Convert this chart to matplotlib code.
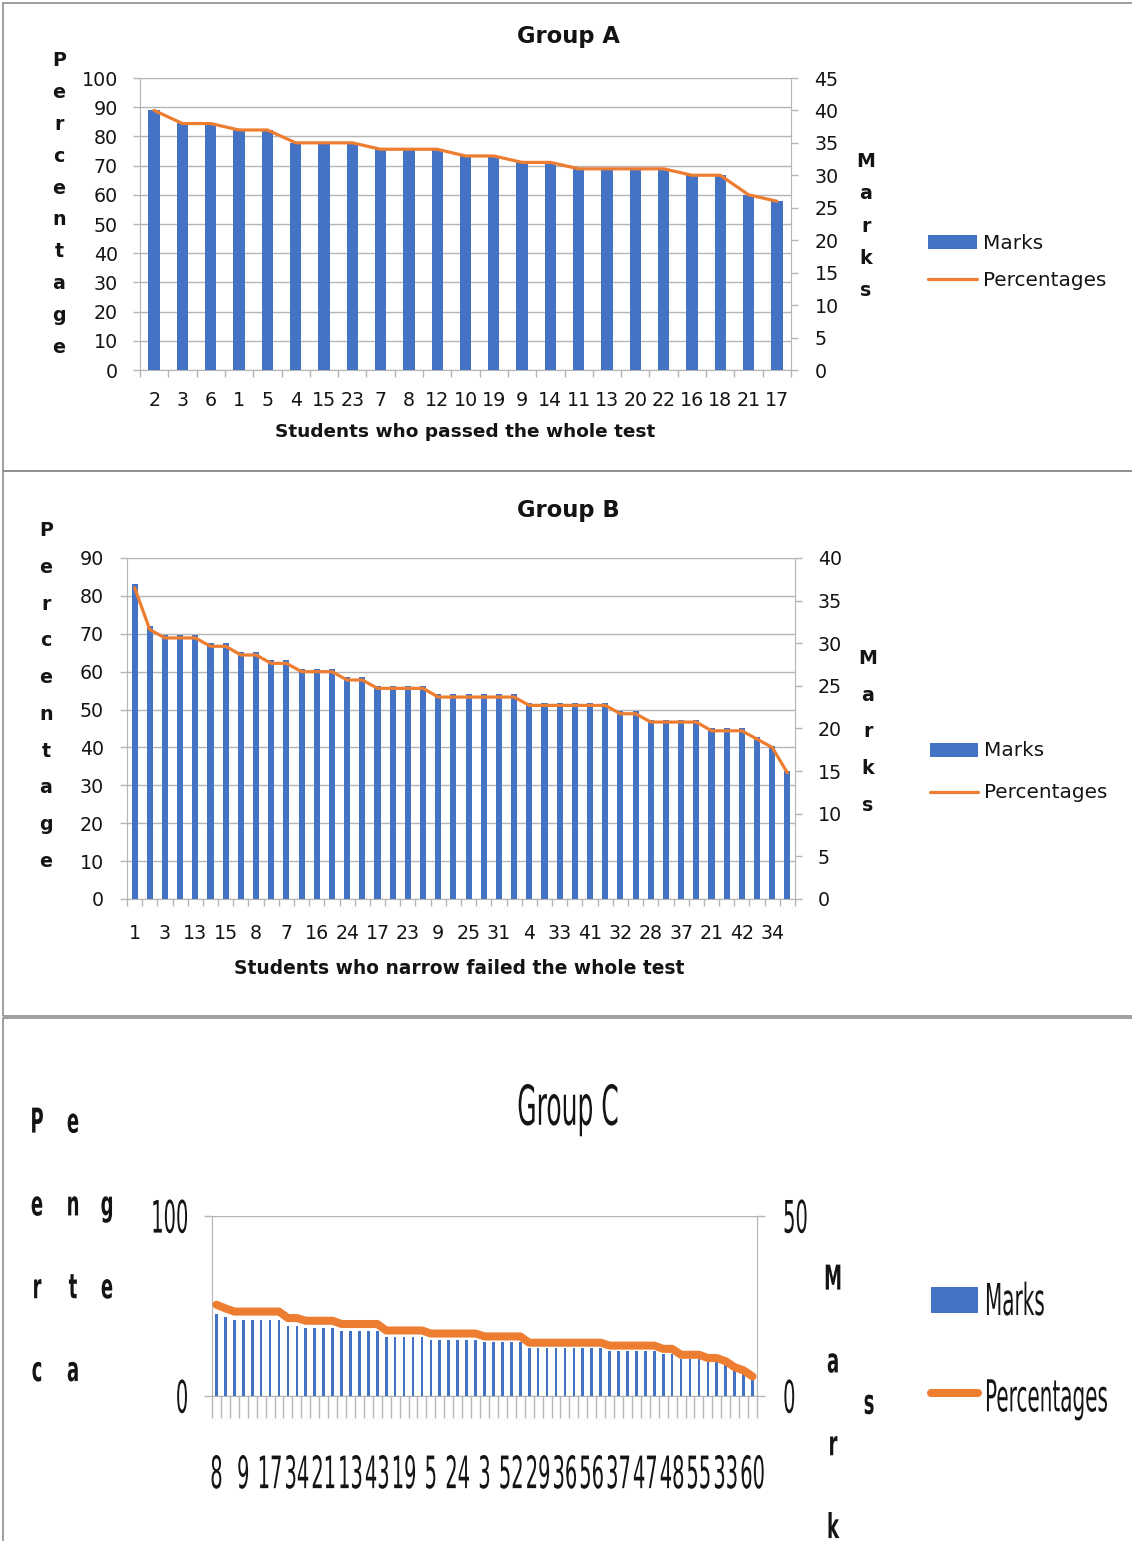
import numpy as np
import matplotlib
matplotlib.use("Agg")
import matplotlib.pyplot as plt
from matplotlib.patches import Rectangle
from matplotlib.patheffects import AbstractPathEffect
from matplotlib.transforms import Affine2D
from matplotlib.textpath import TextToPath

# ---------------------------------------------------------------- data
# Group A: students who passed the whole test
a_students = ["2", "3", "6", "1", "5", "4", "15", "23", "7", "8", "12", "10",
              "19", "9", "14", "11", "13", "20", "22", "16", "18", "21", "17"]
a_marks = [40, 38, 38, 37, 37, 35, 35, 35, 34, 34, 34, 33, 33, 32, 32, 31, 31,
           31, 31, 30, 30, 27, 26]
a_percent = [88.9, 84.4, 84.4, 82.2, 82.2, 77.8, 77.8, 77.8, 75.6, 75.6, 75.6,
             73.3, 73.3, 71.1, 71.1, 68.9, 68.9, 68.9, 68.9, 66.7, 66.7, 60.0,
             57.8]

# Group B: students who narrowly failed the whole test
b_students = ["1", "2", "3", "5", "13", "6", "15", "10", "8", "11", "7", "12",
              "16", "14", "24", "18", "17", "19", "23", "20", "9", "22", "25",
              "26", "31", "27", "4", "29", "33", "30", "41", "35", "32", "36",
              "28", "38", "37", "39", "21", "40", "42", "43", "34", "44"]
b_marks = [37, 32, 31, 31, 31, 30, 30, 29, 29, 28, 28, 27, 27, 27, 26, 26, 25,
           25, 25, 25, 24, 24, 24, 24, 24, 24, 23, 23, 23, 23, 23, 23, 22, 22,
           21, 21, 21, 21, 20, 20, 20, 19, 18, 15]
b_percent = [82.2, 71.1, 68.9, 68.9, 68.9, 66.7, 66.7, 64.4, 64.4, 62.2, 62.2,
             60.0, 60.0, 60.0, 57.8, 57.8, 55.6, 55.6, 55.6, 55.6, 53.3, 53.3,
             53.3, 53.3, 53.3, 53.3, 51.1, 51.1, 51.1, 51.1, 51.1, 51.1, 48.9,
             48.9, 46.7, 46.7, 46.7, 46.7, 44.4, 44.4, 44.4, 42.2, 40.0, 33.3]

# Group C
c_students = ["8", "1", "2", "9", "4", "6", "17", "7", "10", "34", "11", "12",
              "21", "14", "15", "13", "16", "18", "43", "20", "22", "19", "23",
              "25", "5", "26", "27", "24", "28", "30", "3", "31", "32", "52",
              "35", "38", "29", "39", "40", "36", "41", "42", "56", "44", "45",
              "37", "46", "49", "47", "50", "51", "48", "53", "54", "55", "57",
              "58", "33", "59", "61", "60"]
c_marks = [22.8, 21.9, 21.1, 21.1, 21.1, 21.1, 21.1, 21.1, 19.5, 19.5, 18.8,
           18.8, 18.8, 18.8, 18.0, 18.0, 18.0, 18.0, 18.0, 16.4, 16.4, 16.4,
           16.4, 16.4, 15.6, 15.6, 15.6, 15.6, 15.6, 15.6, 14.9, 14.9, 14.9,
           14.9, 14.9, 13.3, 13.3, 13.3, 13.3, 13.3, 13.3, 13.3, 13.3, 13.3,
           12.6, 12.6, 12.6, 12.6, 12.6, 12.6, 11.8, 11.8, 10.3, 10.3, 10.3,
           9.5, 9.5, 8.7, 7.2, 6.4, 4.9]
c_percent = [50.7, 48.7, 46.9, 46.9, 46.9, 46.9, 46.9, 46.9, 43.3, 43.3, 41.8,
             41.8, 41.8, 41.8, 40.0, 40.0, 40.0, 40.0, 40.0, 36.4, 36.4, 36.4,
             36.4, 36.4, 34.7, 34.7, 34.7, 34.7, 34.7, 34.7, 33.1, 33.1, 33.1,
             33.1, 33.1, 29.6, 29.6, 29.6, 29.6, 29.6, 29.6, 29.6, 29.6, 29.6,
             28.0, 28.0, 28.0, 28.0, 28.0, 28.0, 26.2, 26.2, 22.9, 22.9, 22.9,
             21.1, 21.1, 19.3, 16.0, 14.2, 10.9]

series_names = ["Marks", "Percentages"]

# ---------------------------------------------------------------- style
BLUE = "#4472C4"
ORANGE = "#ED7D31"
GRID = "#B5B5B5"
FRAME = "#8E8E8E"
INK = "#141414"

plt.rcParams["font.family"] = ["DejaVu Sans"]
plt.rcParams["text.color"] = INK

W, H = 1132, 1541
fig = plt.figure(figsize=(W / 100, H / 100), dpi=100)


def fx(x):
    return x / W


def fy(y):
    return 1 - y / H


def box(left, top, right, bottom):
    return [fx(left), fy(bottom), (right - left) / W, (bottom - top) / H]


class Tall(AbstractPathEffect):
    """Draw glyphs stretched vertically about their mid-cap height."""

    def __init__(self, ky):
        super().__init__()
        self.ky = ky

    def draw_path(self, renderer, gc, tpath, affine, rgbFace=None):
        cx, cy = affine.transform((0.0, 0.36 * TextToPath.FONT_SCALE))
        stretch = (Affine2D().translate(-cx, -cy)
                   .scale(1.0, self.ky).translate(cx, cy))
        renderer.draw_path(gc, tpath, affine + stretch, rgbFace)


def chart(rect, students, marks, percent, pct_max, pct_step, mark_max,
          mark_step, every, bar_w, line_w, ytick_len, xtick_len, ypad_l,
          ypad_r, xpad, fs):
    n = len(students)
    x = np.arange(n)
    ax = fig.add_axes(rect)
    ax_m = ax.twinx()   # marks (bars, right scale)
    ax_p = ax.twinx()   # percentages (line, left scale, drawn on top)

    ax.set_xlim(-0.5, n - 0.5)
    ax.set_ylim(0, pct_max)
    ax_p.set_ylim(0, pct_max)
    ax_m.set_ylim(0, mark_max)
    ax.set_yticks(np.arange(0, pct_max + 1, pct_step))
    ax_m.set_yticks(np.arange(0, mark_max + 1, mark_step))

    ax.yaxis.grid(True, color=GRID, lw=1.0)
    for s in ("top", "right"):
        ax.spines[s].set_visible(False)
    for s in ("left", "bottom"):
        ax.spines[s].set_color(GRID)
    for s in ("top", "left", "bottom"):
        ax_m.spines[s].set_visible(False)
    ax_m.spines["right"].set_color(GRID)
    ax_p.axis("off")

    bars = ax_m.bar(x, marks, width=bar_w, color=BLUE, label=series_names[0])
    line, = ax_p.plot(x, percent, color=ORANGE, lw=line_w,
                      label=series_names[1], solid_joinstyle="round",
                      solid_capstyle="round")
    ax.set_xticks(x[::every], students[::every])
    ax.set_xticks(np.arange(-0.5, n), minor=True)

    ax.tick_params(axis="y", length=ytick_len, width=1, color=GRID,
                   pad=ypad_l, labelsize=fs, labelcolor=INK)
    ax_m.tick_params(axis="y", length=ytick_len, width=1, color=GRID,
                     pad=ypad_r, labelsize=fs, labelcolor=INK)
    ax.tick_params(axis="x", which="minor", length=xtick_len, width=1,
                   color=GRID)
    ax.tick_params(axis="x", which="major", length=0, pad=xpad,
                   labelsize=fs, labelcolor=INK)
    return ax, ax_m, bars, line


# ---------------------------------------------------------------- frames
for top, bottom in [(3, 471), (471, 1016), (1018, 1600)]:
    fig.add_artist(Rectangle((fx(3), fy(bottom)), fx(1140) - fx(3),
                             fy(top) - fy(bottom), transform=fig.transFigure,
                             fill=False, ec=FRAME, lw=1.2))

# ---------------------------------------------------------------- Group A
axA, axA_m, barsA, lineA = chart(box(140, 78, 791, 370), a_students, a_marks,
                                 a_percent, 100, 10, 45, 5, 1, 0.4, 2.3,
                                 5, 5, 10.8, 12, 15, 13.7)
axA.set_xlabel("Students who passed the whole test", fontsize=13.3,
               fontweight="bold", color=INK)
axA.xaxis.set_label_coords(0.5, (370 - 432) / 292)
axA.xaxis.label.set_va("center")
fig.text(fx(568), fy(37), "Group A", ha="center", va="center",
         fontsize=16.3, fontweight="bold")
fig.text(fx(59), fy(204), "\n".join("Percentage"), ha="center", va="center",
         fontsize=13.7, fontweight="bold", linespacing=1.86)
fig.text(fx(866), fy(226), "\n".join("Marks"), ha="center", va="center",
         fontsize=13.7, fontweight="bold", linespacing=1.89)
fig.legend(handles=[barsA, lineA], labels=series_names, loc="center left",
           bbox_to_anchor=(fx(928), fy(262)), frameon=False, fontsize=14.4,
           handlelength=2.45, handletextpad=0.3, labelspacing=0.9,
           borderpad=0, borderaxespad=0)

# ---------------------------------------------------------------- Group B
axB, axB_m, barsB, lineB = chart(box(127, 558, 795, 899), b_students, b_marks,
                                 b_percent, 90, 10, 40, 5, 2, 0.4, 2.3,
                                 5, 5, 11.5, 11.5, 18, 13.7)
axB.set_xlabel("Students who narrow failed the whole test", fontsize=13.4,
               fontweight="bold", color=INK)
axB.xaxis.set_label_coords((459 - 127) / 668, (899 - 969) / 341)
axB.xaxis.label.set_va("center")
fig.text(fx(568), fy(510), "Group B", ha="center", va="center",
         fontsize=16.3, fontweight="bold")
fig.text(fx(46), fy(696), "\n".join("Percentage"), ha="center", va="center",
         fontsize=13.7, fontweight="bold", linespacing=2.18)
fig.text(fx(868), fy(732), "\n".join("Marks"), ha="center", va="center",
         fontsize=13.7, fontweight="bold", linespacing=2.18)
fig.legend(handles=[barsB, lineB], labels=series_names, loc="center left",
           bbox_to_anchor=(fx(930), fy(772)), frameon=False, fontsize=14.4,
           handlelength=2.4, handletextpad=0.3, labelspacing=1.15,
           borderpad=0, borderaxespad=0)

# ---------------------------------------------------------------- Group C
axC, axC_m, barsC, lineC = chart(box(212, 1216, 757, 1396), c_students,
                                 c_marks, c_percent, 100, 100, 50, 50, 3,
                                 0.3, 5.8, 5.8, 15.8, 11.4, 13, 49, 14)
tall = [Tall(2.3)]
for lbl in (axC.get_xticklabels() + axC.get_yticklabels()
            + axC_m.get_yticklabels()):
    lbl.set_path_effects(tall)

fig.text(fx(568), fy(1107), "Group C", ha="center", va="center",
         fontsize=18, path_effects=[Tall(2.2)])

# stacked axis titles wrap into centred columns
for cx, chunk in [(37, "Perc"), (73, "enta"), (107, "ge")]:
    fig.text(fx(cx), fy(1246), "\n".join(chunk), ha="center", va="center",
             fontsize=13, fontweight="bold", linespacing=5.63,
             path_effects=[Tall(1.9)])
for cx, chunk in [(833, "Mark"), (869, "s")]:
    fig.text(fx(cx), fy(1403), "\n".join(chunk), ha="center", va="center",
             fontsize=13, fontweight="bold", linespacing=5.63,
             path_effects=[Tall(1.9)])

legC = fig.legend(handles=[barsC, lineC], labels=series_names,
                  loc="center left", bbox_to_anchor=(fx(931), fy(1348)),
                  frameon=False, fontsize=14.4, handlelength=2.35,
                  handleheight=1.65, handletextpad=0.35, labelspacing=3.5,
                  borderpad=0, borderaxespad=0)
for t in legC.get_texts():
    t.set_path_effects([Tall(2.2)])

fig.savefig("out.png", dpi=100)
